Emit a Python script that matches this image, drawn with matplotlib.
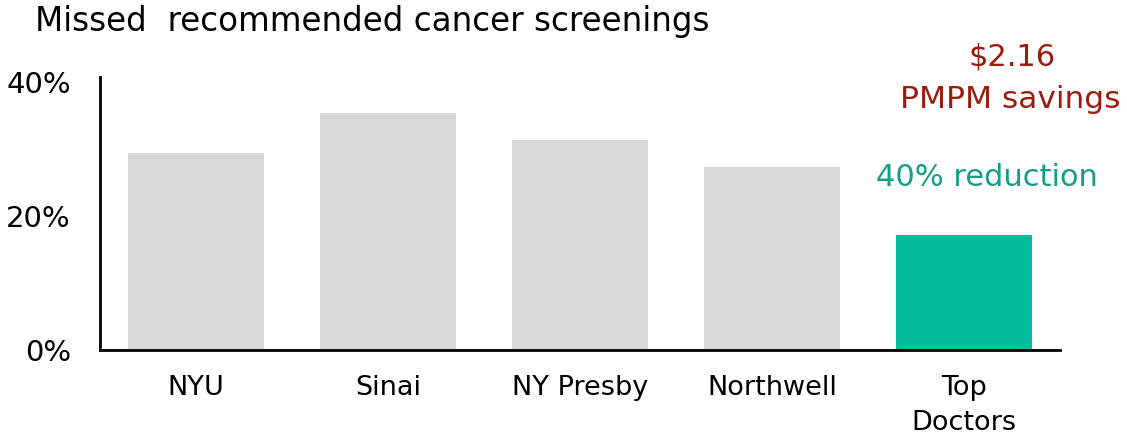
import matplotlib.pyplot as plt

# Dados
categorias = ['NYU', 'Sinai', 'NY Presby', 'Northwell', 'Top\nDoctors']
valores = [29.3, 35.4, 31.3, 27.3, 17.2]
cores = ['#D9D9D9', '#D9D9D9', '#D9D9D9', '#D9D9D9', '#00BE9C']
ticks_y = [0, 20, 40]

plt.rcParams['font.family'] = ['DejaVu Sans']

fig = plt.figure(figsize=(11.27, 4.38), dpi=100)
ax = fig.add_axes([100 / 1127, 1 - 350 / 438, 960 / 1127, 273 / 438])

x = range(len(categorias))
ax.bar(x, valores, width=0.71, color=cores, zorder=2)

ax.set_xlim(-0.5, 4.5)
ax.set_ylim(0, 40.7)
ax.set_yticks(ticks_y)
ax.set_yticklabels([f'{v}%' for v in ticks_y], fontsize=21)
ax.set_xticks(list(x))
ax.set_xticklabels(categorias, fontsize=19.5, linespacing=1.45)
ax.tick_params(axis='both', length=0)
ax.tick_params(axis='y', pad=21)
ax.tick_params(axis='x', pad=18)

for lado in ['top', 'right']:
    ax.spines[lado].set_visible(False)
for lado in ['left', 'bottom']:
    ax.spines[lado].set_linewidth(2)
    ax.spines[lado].set_color('black')

# Título
fig.text(35 / 1127, 1 - 22 / 438, 'Missed  recommended cancer screenings',
         fontsize=23.5, ha='left', va='center')

# Anotações
fig.text(1012 / 1127, 1 - 57 / 438, '$2.16', fontsize=22, color='#9B1B0F',
         ha='center', va='center')
fig.text(1010 / 1127, 1 - 100 / 438, 'PMPM savings', fontsize=22.5, color='#9B1B0F',
         ha='center', va='center')
fig.text(987 / 1127, 1 - 178 / 438, '40% reduction', fontsize=22, color='#159E86',
         ha='center', va='center')

fig.savefig('out.png', dpi=100)
